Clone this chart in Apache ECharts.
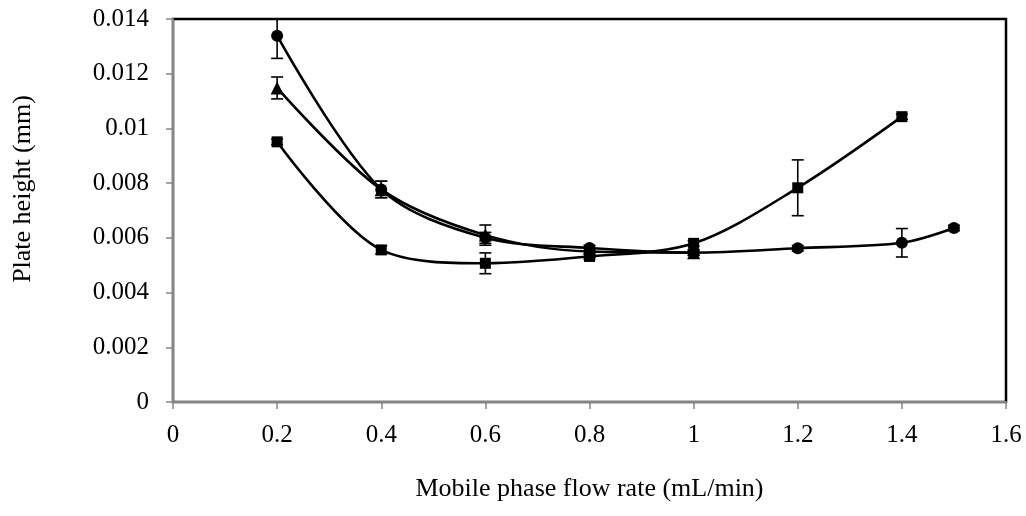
<!DOCTYPE html>
<html>
<head>
<meta charset="utf-8">
<script src="https://cdn.jsdelivr.net/npm/echarts@6/dist/echarts.min.js"></script>
<style>
  html, body { margin: 0; padding: 0; background: #fff; }
  #chart { width: 1026px; height: 516px; }
</style>
</head>
<body>
<div id="chart"></div>
<script>
// Plate height vs. mobile phase flow rate (three data sets, mean ± SD)
const circleFlow = [0.2, 0.4, 0.6, 0.8, 1.0, 1.2, 1.4, 1.5];
const circleH    = [0.01339, 0.00777, 0.0060, 0.00563, 0.00546, 0.00562, 0.00582, 0.00636];
const circleErr  = [0.00083, 0.0003, 0.0002, 0.0001, 0.0001, 0.0001, 0.00052, 0.0001];

const triangleFlow = [0.2, 0.4, 0.6, 0.8, 1.0];
const triangleH    = [0.01148, 0.00777, 0.0061, 0.0055, 0.00546];
const triangleErr  = [0.0004, 0.0003, 0.00037, 0.0001, 0.0001];

const squareFlow = [0.2, 0.4, 0.6, 0.8, 1.0, 1.2, 1.4];
const squareH    = [0.00951, 0.00556, 0.00507, 0.00532, 0.0058, 0.00783, 0.01043];
const squareErr  = [0.0001, 0.00015, 0.00038, 0.0001, 0.0001, 0.00102, 0.0001];

const xTicks = [0, 0.2, 0.4, 0.6, 0.8, 1, 1.2, 1.4, 1.6];
const yTicks = [0, 0.002, 0.004, 0.006, 0.008, 0.01, 0.012, 0.014];

const xTitle = 'Mobile phase flow rate (mL/min)';
const yTitle = 'Plate height (mm)';

const FONT = '"Liberation Serif", "Times New Roman", serif';

function pairs(xs, ys) { return xs.map((x, i) => [x, ys[i]]); }
function errRows(xs, ys, es) { return xs.map((x, i) => [x, ys[i] - es[i], ys[i] + es[i]]); }

function lineSeries(name, xs, ys, symbol, size) {
  return {
    name, type: 'line', data: pairs(xs, ys), smooth: 0.32,
    symbol, symbolSize: size,
    lineStyle: { color: '#000', width: 2.6 },
    itemStyle: { color: '#000' },
    z: 3
  };
}

function errorSeries(xs, ys, es) {
  return {
    type: 'custom',
    data: errRows(xs, ys, es),
    clip: true,
    z: 2,
    renderItem(params, api) {
      const lo = api.coord([api.value(0), api.value(1)]);
      const hi = api.coord([api.value(0), api.value(2)]);
      const w = 6;
      const st = { stroke: '#000', lineWidth: 1.6 };
      return {
        type: 'group',
        children: [
          { type: 'line', shape: { x1: hi[0], y1: hi[1], x2: lo[0], y2: lo[1] }, style: st },
          { type: 'line', shape: { x1: hi[0] - w, y1: hi[1], x2: hi[0] + w, y2: hi[1] }, style: st },
          { type: 'line', shape: { x1: lo[0] - w, y1: lo[1], x2: lo[0] + w, y2: lo[1] }, style: st }
        ]
      };
    }
  };
}

const chart = echarts.init(document.getElementById('chart'), null, { renderer: 'canvas' });
chart.setOption({
  animation: false,
  backgroundColor: '#fff',
  grid: {
    left: 173, right: 20, top: 19, bottom: 114,
    show: true, borderColor: '#000', borderWidth: 2.5, backgroundColor: 'transparent'
  },
  graphic: [{
    type: 'text', x: 23, y: 189, rotation: Math.PI / 2,
    style: {
      text: yTitle, fontFamily: FONT, fontSize: 26, fill: '#000',
      textAlign: 'center', textVerticalAlign: 'middle'
    }
  }],
  xAxis: {
    type: 'value', min: 0, max: 1.6, interval: 0.2,
    name: xTitle,
    nameLocation: 'middle', nameGap: 74,
    nameTextStyle: { fontFamily: FONT, fontSize: 26, color: '#000' },
    axisLine: { show: true, onZero: false, lineStyle: { color: '#868686', width: 2 } },
    axisTick: { show: true, inside: false, length: 7, lineStyle: { color: '#868686', width: 1.5 } },
    axisLabel: {
      fontFamily: FONT, fontSize: 25, color: '#000', margin: 21,
      formatter: v => String(xTicks.find(t => Math.abs(t - v) < 1e-9) ?? v)
    },
    splitLine: { show: false }
  },
  yAxis: {
    type: 'value', min: 0, max: 0.014, interval: 0.002,
    axisLine: { show: true, lineStyle: { color: '#868686', width: 2 } },
    axisTick: { show: true, inside: false, length: 7, lineStyle: { color: '#868686', width: 1.5 } },
    axisLabel: {
      fontFamily: FONT, fontSize: 25, color: '#000', margin: 24,
      formatter: v => String(yTicks.find(t => Math.abs(t - v) < 1e-12) ?? v)
    },
    splitLine: { show: false }
  },
  series: [
    errorSeries(circleFlow, circleH, circleErr),
    errorSeries(triangleFlow, triangleH, triangleErr),
    errorSeries(squareFlow, squareH, squareErr),
    lineSeries('Triangle', triangleFlow, triangleH, 'triangle', 13),
    lineSeries('Circle', circleFlow, circleH, 'circle', 12),
    lineSeries('Square', squareFlow, squareH, 'rect', 11)
  ]
});
</script>
</body>
</html>
